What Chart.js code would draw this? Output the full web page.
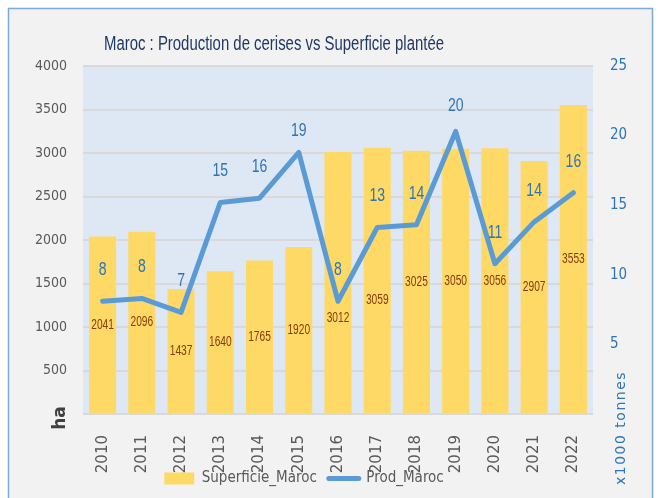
<!DOCTYPE html>
<html lang="fr">
<head>
<meta charset="utf-8">
<title>Maroc : Production de cerises vs Superficie plantée</title>
<script src="https://cdn.jsdelivr.net/npm/chart.js@4.4.1/dist/chart.umd.min.js"></script>
<style>
  html, body { margin: 0; padding: 0; background: #fff; }
  canvas { display: block; }
</style>
</head>
<body>
<canvas id="cerises" width="658" height="498"></canvas>
<script>
// Maroc : superficie plantée (ha, barres) et production (x1000 tonnes, ligne)

// ── Données ───────────────────────────────────────────────────────────────
const annees = ['2010', '2011', '2012', '2013', '2014', '2015', '2016',
                '2017', '2018', '2019', '2020', '2021', '2022'];
const superficie = [2041, 2096, 1437, 1640, 1765, 1920, 3012, 3059, 3025, 3050, 3056, 2907, 3553];
const production = [8.1, 8.3, 7.3, 15.2, 15.5, 18.8, 8.1, 13.4, 13.6, 20.3, 10.8, 13.8, 15.9];
const ticksHa = [0, 500, 1000, 1500, 2000, 2500, 3000, 3500, 4000];
const ticksTonnes = [0, 5, 10, 15, 20, 25];

const TITRE = 'Maroc : Production de cerises vs Superficie plantée';

// ── Style ─────────────────────────────────────────────────────────────────
const COND = '"DejaVu Sans Condensed", "Liberation Sans", sans-serif';
const SANS = '"Liberation Sans", Arial, sans-serif';
const WIDE = '"DejaVu Sans", sans-serif';
const JAUNE = '#ffd966';
const BLEU = '#5b9bd5';
const BLEU_TXT = '#2e75b6';
const GRIS = '#595959';
const GRILLE = '#d9d9d9';

// petits réglages d'étiquettes (comme dans le fichier Excel d'origine)
const decalageBarre = { 6: 35, 7: 19 };
const leveeLigne = { 5: 21, 9: 25 };

// texte resserré horizontalement (rendu type Calibri étroit)
function texteSerre(ctx, txt, x, y, sx) {
    ctx.save();
    ctx.translate(x, y);
    ctx.scale(sx, 1);
    ctx.fillText(txt, 0, 0);
    ctx.restore();
}

// ── Plugins ───────────────────────────────────────────────────────────────
const fond = {
    id: 'fond',
    beforeDraw(chart) {
        const { ctx, chartArea: a } = chart;
        ctx.save();
        ctx.fillStyle = '#ffffff';
        ctx.fillRect(0, 0, chart.width, chart.height);
        ctx.fillStyle = '#f2f2f2';
        ctx.fillRect(8, 8, 645, 500);
        ctx.strokeStyle = '#7ea9db';
        ctx.lineWidth = 1.5;
        ctx.strokeRect(8.5, 8.5, 644, 500);
        ctx.fillStyle = '#dee8f4';
        ctx.fillRect(a.left, a.top, a.right - a.left, a.bottom - a.top);
        ctx.restore();
    },
    afterLayout(chart) {
        // légende un peu décalée vers la gauche
        chart.legend.right -= 50;
        // les années débordent sous l'axe : on agrandit la zone de dessin
        chart.scales.x.bottom += 30;
    },
};

const etiquettes = {
    id: 'etiquettes',
    afterDatasetsDraw(chart) {
        const { ctx } = chart;
        ctx.save();
        ctx.textAlign = 'center';
        ctx.textBaseline = 'middle';

        ctx.fillStyle = '#843c0c';
        ctx.font = `15px ${SANS}`;
        chart.getDatasetMeta(0).data.forEach((bar, i) => {
            const y = (bar.y + bar.base) / 2 + (decalageBarre[i] || 0);
            texteSerre(ctx, String(superficie[i]), bar.x, y, 0.68);
        });

        ctx.fillStyle = BLEU_TXT;
        ctx.font = `18px ${SANS}`;
        chart.getDatasetMeta(1).data.forEach((pt, i) => {
            texteSerre(ctx, String(Math.round(production[i])), pt.x, pt.y - (leveeLigne[i] || 31), 0.78);
        });
        ctx.restore();
    },
    afterDraw(chart) {
        const { ctx, chartArea: a } = chart;
        ctx.save();
        ctx.textBaseline = 'middle';
        ctx.textAlign = 'left';
        ctx.fillStyle = '#203864';
        ctx.font = `20px ${SANS}`;
        texteSerre(ctx, TITRE, 104, 44, 340 / ctx.measureText(TITRE).width);

        ctx.textAlign = 'center';
        ctx.save();
        ctx.translate(61, a.bottom + 4);
        ctx.rotate(-Math.PI / 2);
        ctx.fillStyle = '#404040';
        ctx.font = `bold 17px ${WIDE}`;
        ctx.fillText('ha', 0, 0);
        ctx.restore();

        ctx.save();
        ctx.translate(621, 428);
        ctx.rotate(-Math.PI / 2);
        ctx.fillStyle = BLEU_TXT;
        ctx.font = `14px ${WIDE}`;
        ctx.letterSpacing = '1.5px';
        ctx.fillText('x1000 tonnes', 0, 0);
        ctx.restore();
        ctx.restore();
    },
};

// ── Graphique ─────────────────────────────────────────────────────────────
const ctx = document.getElementById('cerises').getContext('2d');
new Chart(ctx, {
    data: {
        labels: annees,
        datasets: [
            {
                type: 'bar',
                label: 'Superficie_Maroc',
                data: superficie,
                backgroundColor: JAUNE,
                borderWidth: 0,
                barPercentage: 0.69,
                categoryPercentage: 1,
                yAxisID: 'y',
                order: 1,
            },
            {
                type: 'line',
                label: 'Prod_Maroc',
                data: production,
                borderColor: BLEU,
                backgroundColor: BLEU,
                borderWidth: 5,
                borderJoinStyle: 'round',
                borderCapStyle: 'round',
                tension: 0,
                pointRadius: 0,
                pointHoverRadius: 0,
                yAxisID: 'y2',
                order: 0,
            },
        ],
    },
    options: {
        responsive: false,
        animation: false,
        devicePixelRatio: 1,
        layout: { padding: { top: 66, left: 0, right: 0, bottom: 2 } },
        font: { family: COND },
        plugins: {
            title: { display: false },
            tooltip: { enabled: false },
            legend: {
                position: 'bottom',
                labels: {
                    font: { family: COND, size: 15 },
                    color: GRIS,
                    padding: 12,
                    boxWidth: 30,
                    boxHeight: 12,
                    usePointStyle: true,
                    pointStyleWidth: 30,
                    sort: (a, b) => a.datasetIndex - b.datasetIndex,
                    generateLabels(chart) {
                        return Chart.defaults.plugins.legend.labels.generateLabels(chart).map(item => {
                            if (item.datasetIndex === 1) {
                                return { ...item, pointStyle: 'line', strokeStyle: BLEU, lineWidth: 5, lineCap: 'round' };
                            }
                            return { ...item, pointStyle: 'rect', fillStyle: JAUNE, lineWidth: 0 };
                        });
                    },
                },
            },
        },
        scales: {
            x: {
                offset: true,
                grid: { display: false },
                border: { display: false },
                ticks: {
                    autoSkip: false,
                    minRotation: 90,
                    maxRotation: 90,
                    padding: 13,
                    color: GRIS,
                    font: { family: WIDE, size: 15 },
                },
                afterFit: s => { s.height = 45; },
            },
            y: {
                position: 'left',
                min: 0,
                max: 4000,
                afterBuildTicks: s => { s.ticks = ticksHa.map(v => ({ value: v })); },
                grid: { color: GRILLE, lineWidth: 2, drawTicks: false },
                border: { display: false },
                ticks: {
                    padding: 16,
                    color: GRIS,
                    font: { family: COND, size: 14 },
                    callback: v => (v === 0 ? '' : v),
                },
                afterFit: s => { s.width = 83; },
            },
            y2: {
                position: 'right',
                min: 0,
                max: 25,
                afterBuildTicks: s => { s.ticks = ticksTonnes.map(v => ({ value: v })); },
                grid: { drawOnChartArea: false, drawTicks: false },
                border: { display: false },
                ticks: {
                    padding: 17,
                    color: BLEU_TXT,
                    font: { family: COND, size: 15 },
                    callback: v => (v === 0 ? '' : v),
                },
                afterFit: s => { s.width = 65; },
            },
        },
    },
    plugins: [fond, etiquettes],
});
</script>
</body>
</html>
